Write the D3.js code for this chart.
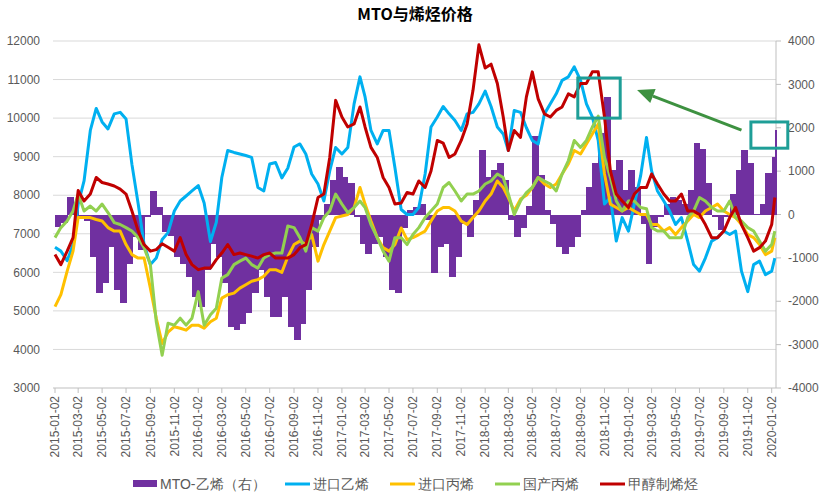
<!DOCTYPE html>
<html>
<head>
<meta charset="utf-8">
<script src="https://cdn.jsdelivr.net/npm/d3@7"></script>
<style>
  body { margin: 0; background: #fff; }
  svg text { font-family: "Liberation Sans", Arial, sans-serif; }
  .cjk { font-family: "Noto Sans CJK SC", sans-serif; }
</style>
</head>
<body>
<svg id="chart" width="831" height="497"></svg>
<script>
// half-month samples, 2015-01-02 .. 2020-01-02, plus last day 2020-01-10
const dates = d3.range(121).map(i => new Date(2015 + Math.floor(i / 24), Math.floor(i / 2) % 12, i % 2 ? 17 : 2));
dates.push(new Date(2020, 0, 10));

// MTO-乙烯 spread (right axis)
const mtoSpread = [
  -280, -200, 400, 100, -100, -150, -980, -1820, -1590, -750,
  -1750, -2050, -1130, -520, -820, -50, 550, 180, -400, -500,
  -980, -1130, -1440, -1900, -2130, -1280, -670, -980, -1590, -2590,
  -2670, -2520, -2280, -1820, -1280, -1900, -2360, -2360, -1900, -2600,
  -2900, -2520, -1750, -750, -130, 250, 790, 1100, 870, 720,
  -50, -670, -900, -670, -520, -980, -1750, -1820, -300, 100,
  180, 250, -130, -1360, -750, -670, -1440, -980, -210, -520,
  330, 1480, 870, 1020, 1180, 790, -130, -520, -300, 200,
  1800, 900, 100, -210, -750, -900, -750, -520, 100, 640,
  1180, 1870, 2720, 1020, 1250, 560, 1020, 640, -210, -1130,
  -280, -50, 250, 410, 330, 250, 560, 1640, 1500, 720,
  -50, -360, -50, 480, 1020, 1480, 1180, 20, 250, 950,
  1330, 1950
];

const importEthylene = [
  6650, 6550, 6300, 6720, 7770, 8370, 9680, 10250, 9900, 9720,
  10110, 10150, 9980, 8800, 7770, 6720, 6200, 6370, 6850, 7030,
  7590, 7850, 7980, 8110, 8250, 7800, 6800, 7300, 8460, 9160,
  9110, 9070, 9030, 8980, 8200, 8110, 8810, 8850, 8450, 8700,
  9250, 9330, 9070, 8550, 8290, 7850, 8630, 9240, 9070, 9240,
  10370, 11070, 10550, 9680, 9330, 9680, 9680, 8720, 7630, 7500,
  7500, 7680, 8550, 9770, 10030, 10300, 10110, 9940, 9680, 10110,
  10150, 10370, 10700, 10300, 9770, 9590, 9160, 10200, 10150, 9750,
  9420, 9330, 10110, 10370, 10630, 10980, 11070, 11330, 10980, 10370,
  10030, 9420, 7770, 7940, 6810, 7420, 7070, 7770, 8500, 9500,
  8630, 8110, 7850, 7590, 7240, 7420, 6810, 6200, 6030, 6370,
  6810, 6900, 7070, 6980, 7070, 6030, 5500, 6200, 6290, 5940,
  6030, 6370
];

const importPropylene = [
  5110, 5420, 6030, 6550, 7420, 7420, 7420, 7370, 7330, 7160,
  7070, 7070, 6720, 6460, 6370, 6370, 5590, 4810, 4150, 4450,
  4590, 4550, 4500, 4630, 4630, 4550, 4720, 4810, 5330, 5420,
  5460, 5590, 5680, 5770, 5810, 5900, 6070, 6070, 6000, 6400,
  6720, 6810, 6720, 6980, 6290, 6720, 7070, 7420, 7460, 7500,
  7680, 8200, 7770, 7330, 6900, 6640, 6550, 6720, 7150, 6850,
  6900, 6980, 7070, 7330, 7590, 7680, 7680, 7590, 7330, 7240,
  7420, 7590, 7850, 8030, 8370, 8200, 7940, 7590, 7900, 8000,
  8200, 8460, 8290, 8200, 8290, 8550, 8810, 9160, 9070, 9330,
  9590, 9850, 8550, 7770, 7680, 7590, 7680, 7590, 7500, 7500,
  7240, 7240, 7070, 7160, 6980, 7160, 7330, 7500, 7420, 7590,
  7680, 7770, 7590, 7500, 7420, 7240, 6980, 6900, 6720, 6460,
  6550, 6900
];

const domesticPropylene = [
  6900, 7160, 7330, 7590, 8030, 7590, 7720, 7590, 7770, 7550,
  7290, 7240, 7160, 7070, 6900, 6640, 6200, 4720, 3850, 4680,
  4630, 4810, 4630, 4810, 5500, 4630, 4900, 5070, 5850, 5940,
  6200, 6290, 6370, 6200, 6110, 6370, 6460, 6500, 6500, 7200,
  7160, 6900, 6550, 7160, 7070, 7420, 7590, 8030, 7770, 7550,
  7680, 7850, 7680, 7240, 6900, 6550, 6290, 6900, 6900, 6720,
  6980, 7160, 7420, 7590, 7770, 8200, 8330, 8110, 7850, 8030,
  8030, 8110, 8290, 8370, 8550, 8460, 8030, 7500, 7850, 8070,
  8200, 8460, 8370, 8290, 8110, 8550, 8900, 9420, 9240, 9420,
  9770, 10050, 8980, 8460, 7850, 7590, 7850, 7850, 7680, 7650,
  7160, 7070, 7070, 6900, 6900, 6900, 7420, 7590, 7940, 7850,
  7680, 7590, 7590, 7850, 7420, 7330, 7160, 7070, 6810, 6550,
  6720, 7070
];

const methanolOlefin = [
  6460, 6200, 6550, 6900, 8120, 7850, 8030, 8460, 8330, 8290,
  8240, 8160, 8030, 7590, 7070, 6720, 6550, 6590, 6740, 6650,
  6550, 6900, 6460, 6200, 6070, 6110, 6110, 6330, 6500, 6720,
  6460, 6500, 6460, 6420, 6370, 6460, 6500, 6370, 6370, 6370,
  6460, 6640, 6720, 7240, 7940, 8030, 8980, 10460, 10030, 9770,
  9850, 10290, 9770, 9240, 8980, 8460, 8200, 7770, 7800, 8070,
  8030, 8370, 8200, 8630, 9420, 9350, 8980, 9070, 9420, 9850,
  10720, 11900, 11300, 11400, 10900, 10030, 9160, 9680, 9500, 10550,
  11200, 10500, 10110, 10030, 10200, 10290, 10630, 10550, 10900, 10900,
  11200, 11200, 10030, 8630, 8030, 7850, 7680, 8030, 8200, 8200,
  8550, 8290, 8030, 7850, 7850, 8030, 7590, 7590, 7500, 7240,
  6900, 6900, 7070, 7420, 7680, 7240, 6900, 6550, 6640, 6810,
  7240, 7940
];

const leftTicks = d3.range(3000, 12001, 1000);
const rightTicks = d3.range(-4000, 4001, 1000);
const xTickDates = d3.range(31).map(k => new Date(2015 + Math.floor(k / 6), (k * 2) % 12, 2));

const lineSeries = [
  { name: "进口乙烯", values: importEthylene, color: "#00B0F0" },
  { name: "进口丙烯", values: importPropylene, color: "#FFC000" },
  { name: "国产丙烯", values: domesticPropylene, color: "#92D050" },
  { name: "甲醇制烯烃", values: methanolOlefin, color: "#C00000" }
];

const plot = { left: 53, right: 776, top: 41, bottom: 388 };

const svg = d3.select("#chart");

const x = d3.scaleTime()
  .domain([new Date(2015, 0, 2), new Date(2020, 0, 2)])
  .range([55, 771.7]);
const yL = d3.scaleLinear().domain([3000, 12000]).range([plot.bottom, plot.top]);
const yR = d3.scaleLinear().domain([-4000, 4000]).range([plot.bottom, plot.top]);

// title
svg.append("text")
  .attr("class", "cjk")
  .attr("x", 415).attr("y", 20)
  .attr("text-anchor", "middle")
  .attr("font-size", 16).attr("font-weight", "bold")
  .attr("fill", "#000")
  .text("MTO与烯烃价格");

// gridlines
svg.append("g").selectAll("line")
  .data(leftTicks.slice(1))
  .join("line")
  .attr("x1", plot.left).attr("x2", plot.right)
  .attr("y1", d => yL(d)).attr("y2", d => yL(d))
  .attr("stroke", "#D9D9D9").attr("stroke-width", 1);

// left labels
svg.append("g").selectAll("text")
  .data(leftTicks)
  .join("text")
  .attr("x", 40).attr("y", d => yL(d))
  .attr("dy", "0.35em")
  .attr("text-anchor", "end")
  .attr("font-size", 12).attr("fill", "#595959")
  .text(d => d);

// right axis
svg.append("line")
  .attr("x1", plot.right).attr("x2", plot.right)
  .attr("y1", plot.top).attr("y2", plot.bottom)
  .attr("stroke", "#BFBFBF");
svg.append("g").selectAll("line")
  .data(rightTicks)
  .join("line")
  .attr("x1", plot.right).attr("x2", plot.right + 5)
  .attr("y1", d => yR(d)).attr("y2", d => yR(d))
  .attr("stroke", "#BFBFBF");
svg.append("g").selectAll("text")
  .data(rightTicks)
  .join("text")
  .attr("x", 788).attr("y", d => yR(d))
  .attr("dy", "0.35em")
  .attr("font-size", 12).attr("fill", "#595959")
  .text(d => d);

// bottom axis
svg.append("line")
  .attr("x1", plot.left).attr("x2", plot.right)
  .attr("y1", plot.bottom).attr("y2", plot.bottom)
  .attr("stroke", "#BFBFBF");
svg.append("g").selectAll("line")
  .data(xTickDates)
  .join("line")
  .attr("x1", d => x(d)).attr("x2", d => x(d))
  .attr("y1", plot.bottom).attr("y2", plot.bottom + 5)
  .attr("stroke", "#BFBFBF");
const fmt = d3.timeFormat("%Y-%m-%d");
svg.append("g").selectAll("text")
  .data(xTickDates)
  .join("text")
  .attr("transform", d => `translate(${x(d)},396) rotate(-90)`)
  .attr("dy", "0.35em")
  .attr("text-anchor", "end")
  .attr("font-size", 12).attr("fill", "#595959")
  .text(d => fmt(d));

// bars: each spans to the next sample (slight overlap) so the fill looks continuous
const barEdge = i => x(dates[Math.min(i + 1, dates.length - 1)]);
svg.append("g").attr("shape-rendering", "crispEdges").selectAll("rect")
  .data(mtoSpread)
  .join("rect")
  .attr("x", (d, i) => x(dates[i]))
  .attr("width", (d, i) => Math.max(2, barEdge(i) - x(dates[i]) + 0.6))
  .attr("y", d => yR(Math.max(0, d)))
  .attr("height", d => Math.abs(yR(d) - yR(0)))
  .attr("fill", "#7030A0");

// lines
const line = d3.line()
  .x((d, i) => x(dates[i]))
  .y(d => yL(d));
svg.append("g").selectAll("path")
  .data(lineSeries)
  .join("path")
  .attr("d", s => line(s.values))
  .attr("fill", "none")
  .attr("stroke", s => s.color)
  .attr("stroke-width", 3)
  .attr("stroke-linejoin", "round");

// annotations
const teal = "#1E9E97";
const boxes = [
  { d0: new Date(2018, 7, 26), d1: new Date(2018, 11, 12), v0: 11040, v1: 10000 },
  { d0: new Date(2019, 10, 10), d1: new Date(2020, 1, 12), v0: 9900, v1: 9220 }
];
svg.append("g").selectAll("rect")
  .data(boxes)
  .join("rect")
  .attr("x", d => x(d.d0)).attr("y", d => yL(d.v0))
  .attr("width", d => x(d.d1) - x(d.d0))
  .attr("height", d => yL(d.v1) - yL(d.v0))
  .attr("fill", "none").attr("stroke", teal).attr("stroke-width", 3);

const arrowTail = { d: new Date(2019, 9, 17), v: 9690 };
const arrowTip = { d: new Date(2019, 0, 24), v: 10730 };
const ax0 = x(arrowTail.d), ay0 = yL(arrowTail.v);
const ax1 = x(arrowTip.d), ay1 = yL(arrowTip.v);
const ang = Math.atan2(ay1 - ay0, ax1 - ax0);
const headLen = 17, headW = 7.5;
const bx = ax1 - headLen * Math.cos(ang), by = ay1 - headLen * Math.sin(ang);
const green = "#3D9140";
svg.append("line")
  .attr("x1", ax0).attr("y1", ay0).attr("x2", bx).attr("y2", by)
  .attr("stroke", green).attr("stroke-width", 3);
svg.append("path")
  .attr("d", `M${ax1},${ay1}L${bx + headW * Math.sin(ang)},${by - headW * Math.cos(ang)}L${bx - headW * Math.sin(ang)},${by + headW * Math.cos(ang)}Z`)
  .attr("fill", green);

// legend
const legend = svg.append("g").attr("class", "cjk").attr("font-size", 14).attr("fill", "#595959");
legend.append("rect").attr("x", 133).attr("y", 480).attr("width", 24).attr("height", 7).attr("fill", "#7030A0");
legend.append("text").attr("x", 160).attr("y", 484).attr("dy", "0.35em").text("MTO-乙烯（右）");
const legendX = [285, 390, 495, 600];
lineSeries.forEach((s, k) => {
  legend.append("line")
    .attr("x1", legendX[k]).attr("x2", legendX[k] + 25)
    .attr("y1", 484).attr("y2", 484)
    .attr("stroke", s.color).attr("stroke-width", 3);
  legend.append("text").attr("x", legendX[k] + 28).attr("y", 484).attr("dy", "0.35em").text(s.name);
});
</script>
</body>
</html>
